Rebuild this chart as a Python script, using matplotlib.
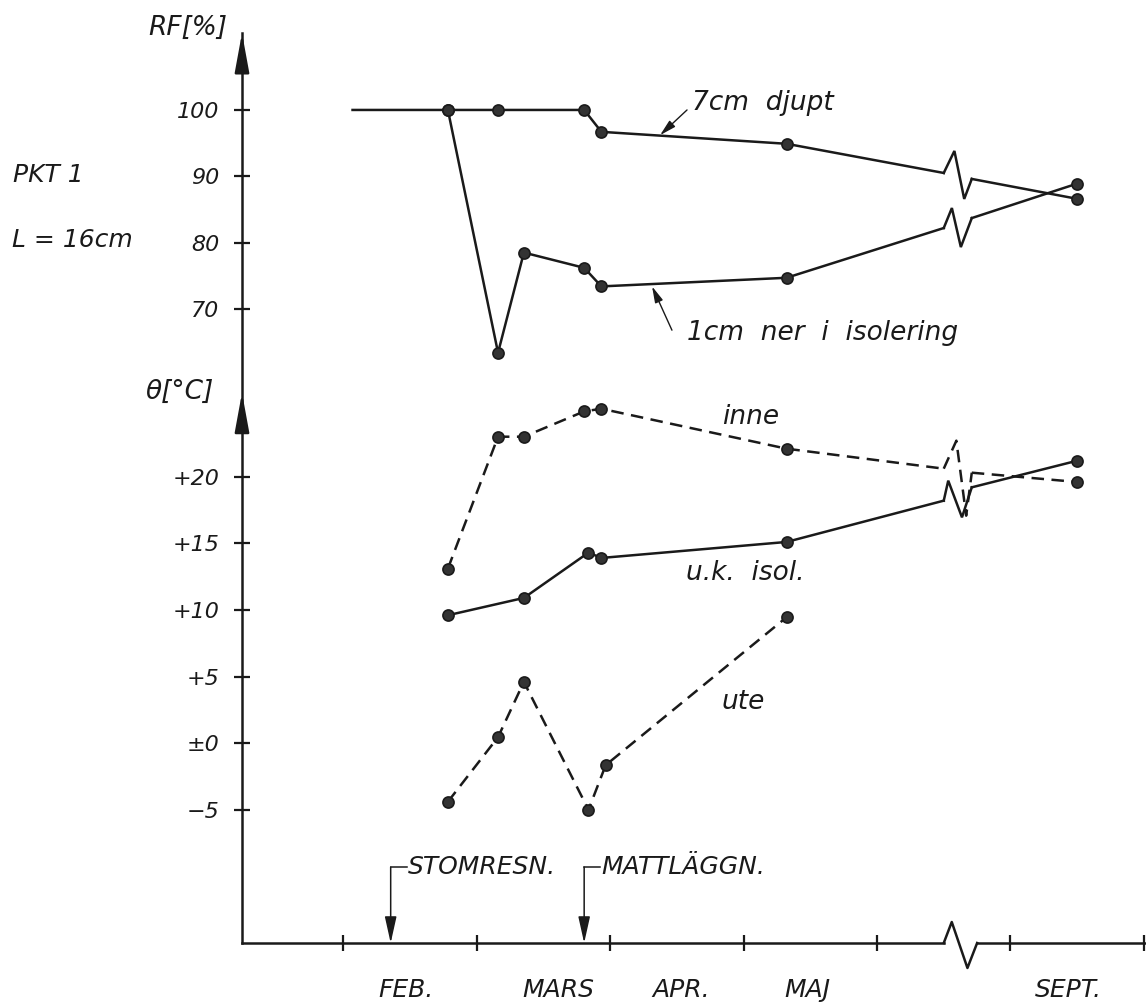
import matplotlib
matplotlib.use('Agg')
import matplotlib.pyplot as plt
import numpy as np

plt.rcParams['font.family'] = ['DejaVu Sans']
plt.rcParams['font.style'] = 'italic'

# datum -> position på tidsaxeln (1 enhet = 1 månad, juni-aug hoptryckt vid brottet)
DAYS = {1: 31, 2: 28, 3: 31, 4: 30, 5: 31, 6: 30, 9: 30, 10: 31}


def month_pos(date):
    m, d = (int(s) for s in date.split('-'))
    base = m if m < 9 else m - 2
    return base + (d - 1) / DAYS[m]


# RF [%]
rf7_dates = ['02-03', '02-23', '03-06', '03-26', '03-30', '05-11']
rf7_vals = [100, 100, 100, 100, 96.7, 94.9]
rf7_break = (90.5, 89.6)
rf7_sept = 86.6

rf1_dates = ['02-23', '03-06', '03-12', '03-26', '03-30', '05-11']
rf1_vals = [100, 63.4, 78.5, 76.2, 73.4, 74.7]
rf1_break = (82.2, 83.7)
rf1_sept = 88.9

# temperatur [C]
inne_dates = ['02-23', '03-06', '03-12', '03-26', '03-30', '05-11']
inne_vals = [13.1, 23.0, 23.0, 24.9, 25.1, 22.1]
inne_break = (20.6, 20.3)
inne_sept = 19.6

isol_dates = ['02-23', '03-12', '03-27', '03-30', '05-11']
isol_vals = [9.6, 10.9, 14.3, 13.9, 15.1]
isol_break = (18.2, 19.2)
isol_sept = 21.2

ute_dates = ['02-23', '03-06', '03-12', '03-27', '03-31', '05-11']
ute_vals = [-4.4, 0.45, 4.6, -5.0, -1.65, 9.45]

sept_date = '09-16'

event_names = ['STOMRESN.', 'MATTLÄGGN.']
event_dates = ['02-11', '03-26']

month_names = ['FEB.', 'MARS', 'APR.', 'MAJ', 'SEPT.']
month_label_pos = [2.47, 3.61, 4.53, 5.48, 7.43]
month_ticks = [2, 3, 4, 5, 6, 7, 8]

rf_ticks = [70, 80, 90, 100]
t_ticks = [-5, 0, 5, 10, 15, 20]
t_labels = ['−5', '±0', '+5', '+10', '+15', '+20']

BREAK_L = 6.50
BREAK_R = 6.71
INK = '#1a1a1a'

W, H = 1146, 1005
fig = plt.figure(figsize=(W / 100, H / 100), dpi=100)
fig.patch.set_facecolor('white')

# axlarna: vänsterkant x=242px, tidsaxel y=943px, topp y=33px
rect = [242 / W, (H - 943) / H, (W - 242) / W, (943 - 33) / H]
ax_t = fig.add_axes(rect)
ax_rf = fig.add_axes(rect, sharex=ax_t)

ax_t.set_xlim(1.2434, 8.015)
ax_t.set_ylim(-15.0, 53.3)
ax_rf.set_ylim(-25.58, 111.6)

for a in (ax_t, ax_rf):
    a.patch.set_visible(False)
    for s in a.spines.values():
        s.set_visible(False)
ax_t.spines['left'].set_visible(True)
ax_t.spines['left'].set_linewidth(1.8)
ax_t.spines['left'].set_color(INK)

ax_t.set_yticks(t_ticks)
ax_t.set_yticklabels(t_labels)
ax_rf.set_yticks(rf_ticks)
for a in (ax_t, ax_rf):
    a.tick_params(axis='y', direction='inout', length=11, width=1.6, color=INK,
                  labelsize=16, pad=11, labelcolor=INK)

ax_t.set_xticks(month_ticks)
ax_t.set_xticklabels([])
ax_t.set_xticks(month_label_pos, minor=True)
ax_t.set_xticklabels(month_names, minor=True)
ax_t.tick_params(axis='x', which='major', direction='inout', length=12, width=1.6, color=INK)
ax_t.tick_params(axis='x', which='minor', length=0, pad=25, labelsize=18, labelcolor=INK)
ax_rf.tick_params(axis='x', which='both', bottom=False, labelbottom=False)


def zigzag(ax, x0, y0, x1, y1, up, down, f0=0.3, f1=0.3, **kw):
    # brottmarkering, ritad i pixlar mellan två datapunkter
    p0 = ax.transData.transform((x0, y0))
    p1 = ax.transData.transform((x1, y1))
    dx = p1[0] - p0[0]
    peak = (p0[0] + f0 * dx, p0[1] + up)
    trough = (p1[0] - f1 * dx, p1[1] - down)
    pts = ax.transData.inverted().transform([p0, peak, trough, p1])
    ax.plot(pts[:, 0], pts[:, 1], **kw)


def draw_series(ax, dates, vals, brk=None, sept=None, dashed=False, skip_first=False,
                zig=(20, 25, 0.3, 0.3)):
    style = dict(color=INK, lw=1.8, solid_joinstyle='miter', clip_on=False)
    if dashed:
        style['dashes'] = (5, 3)
    x = [month_pos(d) for d in dates]
    mk = dict(ls='none', marker='o', ms=8, mfc='#333333', mec=INK, mew=1.2, zorder=5,
              clip_on=False)
    if brk is None:
        ax.plot(x, vals, **style)
    else:
        ax.plot(x + [BREAK_L], vals + [brk[0]], **style)
        zigzag(ax, BREAK_L, brk[0], BREAK_R, brk[1], zig[0], zig[1], zig[2], zig[3], **style)
        ax.plot([BREAK_R, month_pos(sept_date)], [brk[1], sept], **style)
        ax.plot([month_pos(sept_date)], [sept], **mk)
    start = 1 if skip_first else 0
    ax.plot(x[start:], vals[start:], **mk)


draw_series(ax_rf, rf7_dates, rf7_vals, rf7_break, rf7_sept, skip_first=True,
            zig=(22, 20, 0.38, 0.27))
draw_series(ax_rf, rf1_dates, rf1_vals, rf1_break, rf1_sept, zig=(20, 29, 0.29, 0.39))
draw_series(ax_t, inne_dates, inne_vals, inne_break, inne_sept, dashed=True,
            zig=(28, 43, 0.45, 0.2))
draw_series(ax_t, isol_dates, isol_vals, isol_break, isol_sept, zig=(20, 30, 0.16, 0.35))
draw_series(ax_t, ute_dates, ute_vals, dashed=True)

# tidsaxeln med brott
y_axis = ax_t.get_ylim()[0]
x_left, x_right = ax_t.get_xlim()
axis_style = dict(color=INK, lw=1.8, clip_on=False)
ax_t.plot([x_left, BREAK_L], [y_axis, y_axis], **axis_style)
zigzag(ax_t, BREAK_L, y_axis, 6.75, y_axis, 21, 25, 0.24, 0.29, **axis_style)
ax_t.plot([6.75, x_right], [y_axis, y_axis], **axis_style)

# pilspetsar på y-axeln
head = dict(arrowstyle='-|>,head_length=1.2,head_width=0.22', color=INK, lw=1.8,
            mutation_scale=20, shrinkA=0, shrinkB=0)
ax_rf.annotate('', xy=(x_left, 111.6), xytext=(x_left, 106.4), arrowprops=head,
               annotation_clip=False)
ax_t.annotate('', xy=(x_left, 26.3), xytext=(x_left, 24.0), arrowprops=head,
              annotation_clip=False)

# händelser på tidsaxeln
ev_head = dict(arrowstyle='-|>,head_length=0.9,head_width=0.2', color=INK, lw=1.1,
               mutation_scale=18, shrinkA=0, shrinkB=0)
for name, d in zip(event_names, event_dates):
    xe = month_pos(d)
    ax_t.annotate('', xy=(xe, y_axis), xytext=(xe, -9.3), arrowprops=ev_head,
                  annotation_clip=False)
    ax_t.plot([xe, xe + 0.12], [-9.3, -9.3], color=INK, lw=1.1)
    ax_t.text(xe + 0.13, -9.3, name, fontsize=18, va='center', ha='left', color=INK)

# kurvetiketter
thin = dict(arrowstyle='-|>,head_length=0.7,head_width=0.18', color=INK, lw=1.0,
            mutation_scale=14, shrinkA=0, shrinkB=0)
ax_rf.annotate('', xy=(4.375, 96.2), xytext=(4.577, 100.0), arrowprops=thin)
ax_rf.text(4.614, 101.0, '7cm  djupt', fontsize=19, va='center', ha='left', color=INK)
ax_rf.annotate('', xy=(4.315, 73.4), xytext=(4.464, 66.8), arrowprops=thin)
ax_rf.text(4.576, 66.4, '1cm  ner  i  isolering', fontsize=19, va='center', ha='left',
           color=INK)

ax_t.text(5.056, 24.5, 'inne', fontsize=19, va='center', ha='center', color=INK)
ax_t.text(5.01, 12.8, 'u.k.  isol.', fontsize=19, va='center', ha='center', color=INK)
ax_t.text(5.0, 3.1, 'ute', fontsize=19, va='center', ha='center', color=INK)

# axeltitlar och punktbeteckning
fig.text(227 / W, 1 - 28 / H, 'RF[%]', fontsize=19, ha='right', va='center', color=INK)
fig.text(214 / W, 1 - 392 / H, 'θ[°C]', fontsize=19, ha='right', va='center', color=INK)
fig.text(13 / W, 1 - 175 / H, 'PKT 1', fontsize=18, ha='left', va='center', color=INK)
fig.text(12 / W, 1 - 240 / H, 'L = 16cm', fontsize=18, ha='left', va='center', color=INK)

plt.savefig('out.png', dpi=100, facecolor='white')
